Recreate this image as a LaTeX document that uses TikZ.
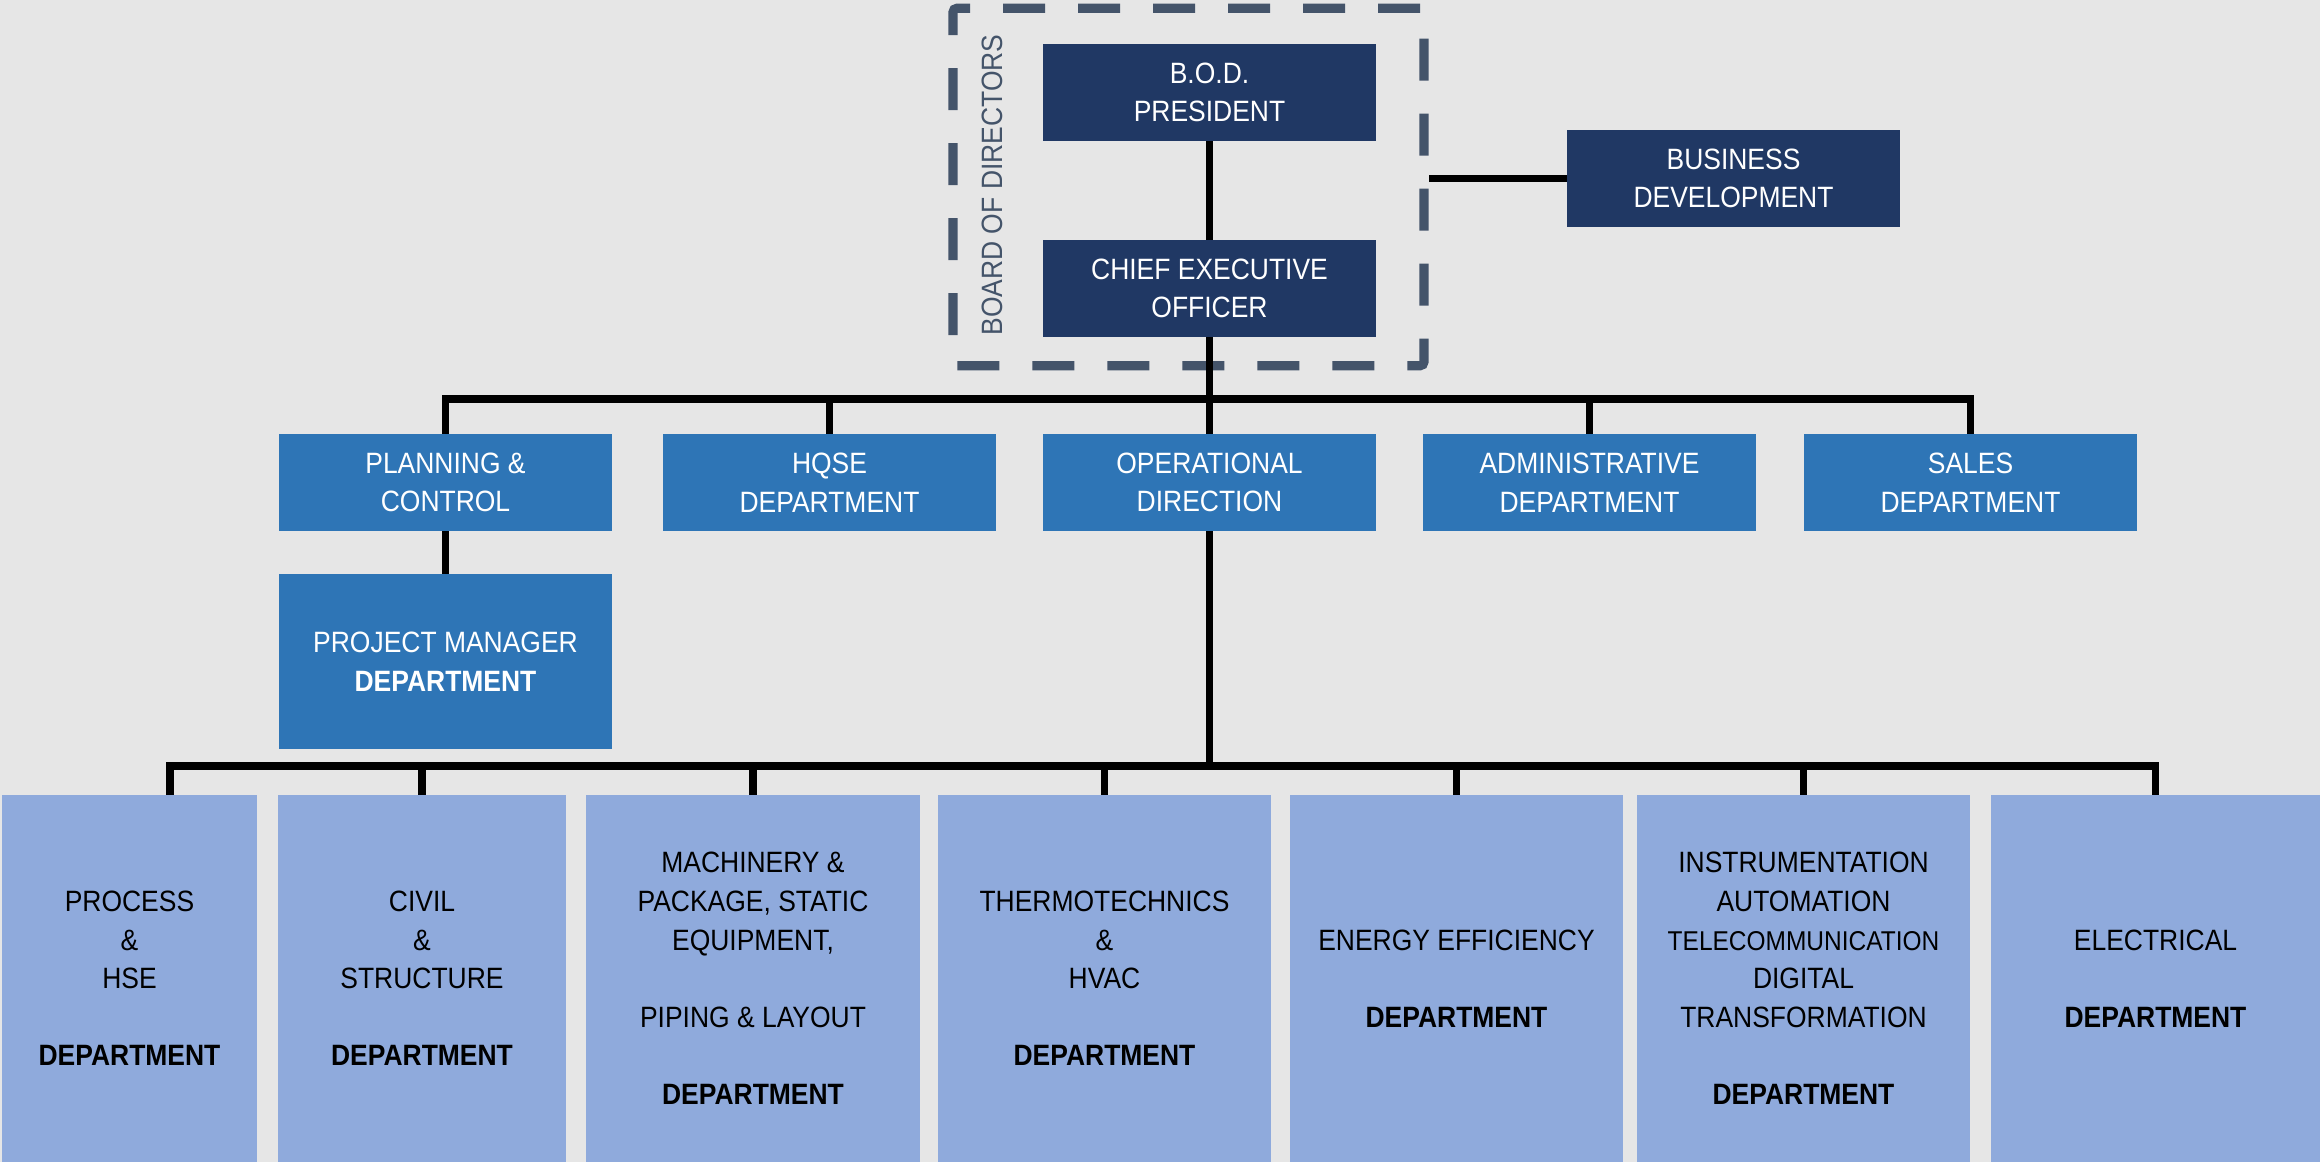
\documentclass[tikz,border=0pt]{standalone}
\usepackage{fontspec}
\setmainfont[FakeStretch=0.9]{Liberation Sans}
\usepackage{xcolor}
\usepackage{tikz}

\definecolor{navy}{HTML}{203864}
\definecolor{midblue}{HTML}{2E75B6}
\definecolor{paleblue}{HTML}{8FAADC}
\definecolor{slate}{HTML}{44546A}
\definecolor{canvas}{HTML}{E6E6E6}

\tikzset{
	box/.style = {rectangle, inner sep = 0, align = center, font = \fontsize{14.7}{19.3}\selectfont},
	topbox/.style = {box, fill = navy, text = white, minimum width = 166.5pt, minimum height = 48.5pt},
	midbox/.style = {box, fill = midblue, text = white, minimum width = 166.5pt, minimum height = 48.5pt},
	deptbox/.style = {box, fill = paleblue, text = black, minimum height = 183.5pt},
	dashframe/.style = {rectangle, inner sep = 0, draw = slate, line width = 4.6pt, dash pattern = on 21pt off 16.5pt, rounded corners = 2pt, minimum width = 235.5pt, minimum height = 178.75pt},
	link/.style = {line width = 3.7pt, black},
}

\begin{document}
\begin{tikzpicture}[x = 0.5pt, y = -0.5pt]
	\def\rowA{482.5};
	\def\rowB{978.5};
	\def\gap{[19.3pt]};
	
	\fill [canvas] (0,0) rectangle (2320,1162);
	\useasboundingbox (0,0) rectangle (2320,1162);
	
	\node [dashframe] (board) at (1188.5,187) {};
	\node [box, rotate = 90, text = slate] (boardlabel) at (992,185) {BOARD OF DIRECTORS};
	
	\node [topbox] (president) at (1209.5,92.5) {B.O.D.\\PRESIDENT};
	\node [topbox] (ceo) at (1209.5,288.5) {CHIEF EXECUTIVE\\OFFICER};
	\node [topbox] (business) at (1733.5,178.5) {BUSINESS\\DEVELOPMENT};
	
	\node [midbox] (planning) at (445.5,\rowA) {PLANNING \&\\CONTROL};
	\node [midbox] (hqse) at (829.5,\rowA) {HQSE\\DEPARTMENT};
	\node [midbox] (operations) at (1209.5,\rowA) {OPERATIONAL\\DIRECTION};
	\node [midbox] (admin) at (1589.5,\rowA) {ADMINISTRATIVE\\DEPARTMENT};
	\node [midbox] (sales) at (1970.5,\rowA) {SALES\\DEPARTMENT};
	\node [midbox, minimum height = 87.5pt] (manager) at (445.5,661.5) {PROJECT MANAGER\\\textbf{DEPARTMENT}};
	
	\node [deptbox, minimum width = 127.5pt] (process) at (129.5,\rowB) {PROCESS\\\&\\HSE\\[19.3pt]\textbf{DEPARTMENT}};
	\node [deptbox, minimum width = 144pt] (civil) at (422,\rowB) {CIVIL\\\&\\STRUCTURE\\[19.3pt]\textbf{DEPARTMENT}};
	\node [deptbox, minimum width = 167pt] (machinery) at (753,\rowB) {MACHINERY \&\\PACKAGE, STATIC\\EQUIPMENT,\\[19.3pt]PIPING \& LAYOUT\\[19.3pt]\textbf{DEPARTMENT}};
	\node [deptbox, minimum width = 166.5pt] (thermo) at (1104.5,\rowB) {THERMOTECHNICS\\\&\\HVAC\\[19.3pt]\textbf{DEPARTMENT}};
	\node [deptbox, minimum width = 166.5pt] (energy) at (1456.5,\rowB) {ENERGY EFFICIENCY\\[19.3pt]\textbf{DEPARTMENT}};
	\node [deptbox, minimum width = 166.5pt] (instrument) at (1803.5,\rowB) {INSTRUMENTATION\\AUTOMATION\\{\fontsize{13.6}{19.3}\selectfont TELECOMMUNICATION}\\DIGITAL\\TRANSFORMATION\\[19.3pt]\textbf{DEPARTMENT}};
	\node [deptbox, minimum width = 164.5pt] (electrical) at (2155.5,\rowB) {ELECTRICAL\\[19.3pt]\textbf{DEPARTMENT}};
	
	\coordinate (busA) at (1209.5,399);
	\coordinate (busB) at (1209.5,766);
	\coordinate (processtop) at ([xshift = 20.25pt]process.north);
	
	\draw [link] (president) -- (ceo);
	\draw [link] (ceo) -- (busA);
	\draw [link] (business.west) -- (business.west -| board.east);
	\draw [link] (planning) -- (planning |- busA) -- (sales |- busA) -- (sales);
	\foreach \n in {hqse, operations, admin}
		\draw [link] (\n) -- (\n |- busA);
	\draw [link] (planning) -- (manager);
	
	\draw [link] (operations) -- (busB);
	\draw [link] (processtop) -- (processtop |- busB) -- (electrical |- busB) -- (electrical);
	\foreach \n in {civil, machinery, thermo, energy, instrument}
		\draw [link] (\n) -- (\n |- busB);
\end{tikzpicture}
\end{document}
